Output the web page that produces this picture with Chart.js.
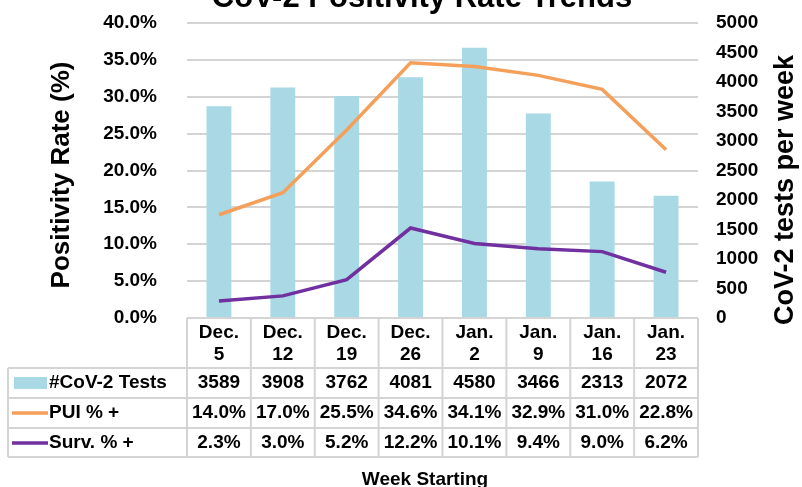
<!DOCTYPE html>
<html lang="en">
<head>
  <meta charset="UTF-8" />
  <title>CoV-2 Positivity Rate Trends</title>
  <script src="https://cdn.jsdelivr.net/npm/chart.js"></script>
  <style>
    body { margin: 0; padding: 0; background: #fff; }
    #wrap { width: 802px; height: 487px; }
  </style>
</head>
<body>
  <div id="wrap"><canvas id="chart" width="802" height="487"></canvas></div>
  <script>
    const weeks = [['Dec.', '5'], ['Dec.', '12'], ['Dec.', '19'], ['Dec.', '26'],
                   ['Jan.', '2'], ['Jan.', '9'], ['Jan.', '16'], ['Jan.', '23']];
    const tests = [3589, 3908, 3762, 4081, 4580, 3466, 2313, 2072];
    const pui = [14.0, 17.0, 25.5, 34.6, 34.1, 32.9, 31.0, 22.8];
    const surv = [2.3, 3.0, 5.2, 12.2, 10.1, 9.4, 9.0, 6.2];

    const FONT = '"Liberation Sans", Arial, sans-serif';
    const BLUE = '#a9d9e4';
    const ORANGE = '#f4a05a';
    const PURPLE = '#7030a0';
    const GRID = '#d4d4d4';

    // horizontal gridlines, painted behind the bars and lines
    const gridPlugin = {
      id: 'gridPlugin',
      afterDatasetsDraw(chart) {
        const ctx = chart.ctx;
        const y = chart.scales.y;
        const area = chart.chartArea;
        ctx.save();
        ctx.globalCompositeOperation = 'destination-over';
        ctx.strokeStyle = GRID;
        ctx.lineWidth = 2;
        ctx.beginPath();
        y.ticks.forEach(t => {
          if (t.value === 0) return;
          const yy = Math.round(y.getPixelForValue(t.value));
          ctx.moveTo(area.left, yy); ctx.lineTo(area.right, yy);
        });
        ctx.stroke();
        ctx.restore();
      }
    };

    // table, titles and legend keys drawn below the plot
    const tablePlugin = {
      id: 'tablePlugin',
      afterDraw(chart) {
        const ctx = chart.ctx;
        const x = chart.scales.x;
        const area = chart.chartArea;
        const n = weeks.length;
        const step = (area.right - area.left) / n;
        const top = area.bottom;
        const rows = [top, top + 50, top + 80, top + 110, top + 139];
        const leftEdge = 8;

        ctx.save();
        ctx.strokeStyle = GRID;
        ctx.lineWidth = 2;
        ctx.beginPath();
        ctx.moveTo(area.left, rows[0]); ctx.lineTo(area.right, rows[0]);
        for (let i = 1; i < rows.length; i++) {
          ctx.moveTo(leftEdge, rows[i]); ctx.lineTo(area.right, rows[i]);
        }
        for (let i = 0; i <= n; i++) {
          const xx = area.left + i * step;
          ctx.moveTo(xx, rows[0]); ctx.lineTo(xx, rows[4]);
        }
        ctx.moveTo(leftEdge, rows[1]); ctx.lineTo(leftEdge, rows[4]);
        ctx.stroke();

        ctx.fillStyle = '#000';
        ctx.font = 'bold 19px ' + FONT;
        ctx.textAlign = 'center';
        ctx.textBaseline = 'middle';
        weeks.forEach((w, i) => {
          const cx = x.getPixelForValue(i);
          ctx.fillText(w[0], cx, rows[0] + 15);
          ctx.fillText(w[1], cx, rows[0] + 37);
          ctx.fillText(String(tests[i]), cx, rows[1] + 15);
          ctx.fillText(pui[i].toFixed(1) + '%', cx, rows[2] + 15);
          ctx.fillText(surv[i].toFixed(1) + '%', cx, rows[3] + 15);
        });

        // row labels with legend keys
        ctx.textAlign = 'left';
        ctx.fillText('#CoV-2 Tests', 49, rows[1] + 15);
        ctx.fillText('PUI % +', 49, rows[2] + 15);
        ctx.fillText('Surv. % +', 49, rows[3] + 15);
        ctx.fillStyle = BLUE;
        ctx.fillRect(14, rows[1] + 9, 33, 12);
        ctx.lineWidth = 3.5;
        ctx.strokeStyle = ORANGE;
        ctx.beginPath(); ctx.moveTo(12, rows[2] + 15); ctx.lineTo(48, rows[2] + 15); ctx.stroke();
        ctx.strokeStyle = PURPLE;
        ctx.beginPath(); ctx.moveTo(12, rows[3] + 15); ctx.lineTo(48, rows[3] + 15); ctx.stroke();

        // titles
        ctx.fillStyle = '#000';
        ctx.textAlign = 'center';
        ctx.textBaseline = 'alphabetic';
        ctx.font = 'bold 19px ' + FONT;
        ctx.fillText('Week Starting', 425, 485);
        ctx.font = 'bold 31px ' + FONT;
        ctx.fillText('CoV-2 Positivity Rate Trends', 422, 7);

        ctx.font = 'bold 26px ' + FONT;
        ctx.textBaseline = 'middle';
        ctx.translate(62, 175);
        ctx.rotate(-Math.PI / 2);
        ctx.fillText('Positivity Rate (%)', 0, 0);
        ctx.restore();

        ctx.save();
        ctx.fillStyle = '#000';
        ctx.font = 'bold 27px ' + FONT;
        ctx.textAlign = 'center';
        ctx.textBaseline = 'middle';
        ctx.translate(786, 190);
        ctx.rotate(-Math.PI / 2);
        ctx.fillText('CoV-2 tests per week', 0, 0);
        ctx.restore();
      }
    };

    new Chart(document.getElementById('chart'), {
      data: {
        labels: weeks,
        datasets: [
          {
            type: 'line', label: 'PUI % +', data: pui, yAxisID: 'y',
            borderColor: ORANGE, borderWidth: 3.5, pointRadius: 0, tension: 0, order: 1
          },
          {
            type: 'line', label: 'Surv. % +', data: surv, yAxisID: 'y',
            borderColor: PURPLE, borderWidth: 3.5, pointRadius: 0, tension: 0, order: 0
          },
          {
            type: 'bar', label: '#CoV-2 Tests', data: tests, yAxisID: 'y1',
            backgroundColor: BLUE, barPercentage: 0.39, categoryPercentage: 1, order: 2
          }
        ]
      },
      options: {
        responsive: false,
        animation: false,
        layout: { padding: { top: 23, bottom: 169, left: 0, right: 0 } },
        plugins: { legend: { display: false }, tooltip: { enabled: false } },
        scales: {
          x: { display: false },
          y: {
            position: 'left', min: 0, max: 40,
            afterFit(s) { s.width = 187; s.paddingTop = 0; s.paddingBottom = 0; },
            ticks: {
              stepSize: 5, padding: 22, color: '#000',
              font: { family: FONT, size: 19, weight: 'bold' },
              callback: v => v.toFixed(1) + '%'
            },
            grid: { display: false },
            border: { display: false }
          },
          y1: {
            position: 'right', min: 0, max: 5000,
            afterFit(s) { s.width = 104; s.paddingTop = 0; s.paddingBottom = 0; },
            ticks: {
              stepSize: 500, padding: 18, color: '#000',
              font: { family: FONT, size: 19, weight: 'bold' },
              callback: v => String(v)
            },
            grid: { display: false, drawTicks: false },
            border: { display: false }
          }
        }
      },
      plugins: [gridPlugin, tablePlugin]
    });
  </script>
</body>
</html>
